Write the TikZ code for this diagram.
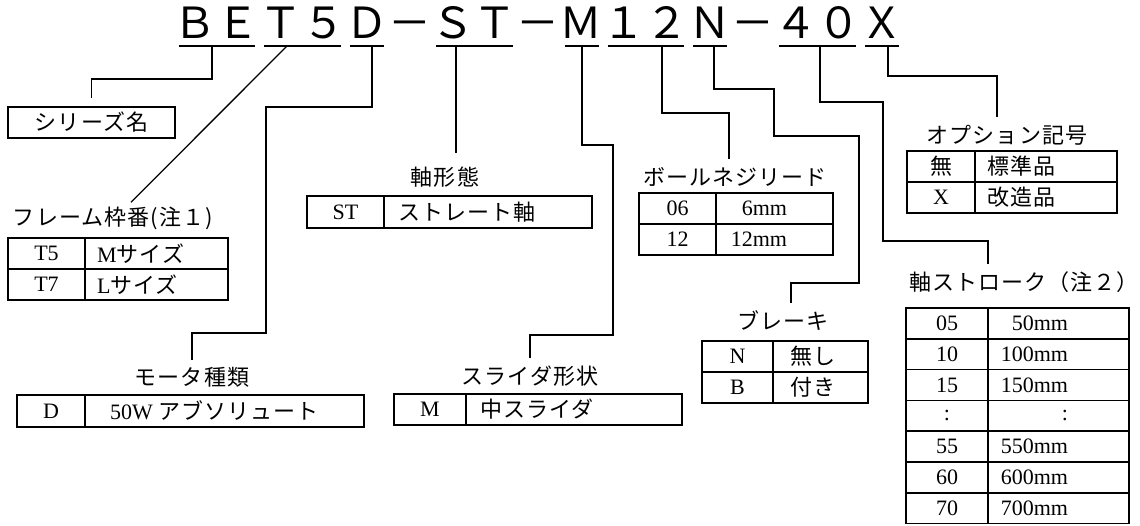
\documentclass[tikz,border=0pt]{standalone}
\usepackage{fontspec}
\setmainfont{Liberation Serif}
\newfontfamily\jp{Noto Sans CJK JP}[LetterSpace=5]
\newfontfamily\jpcode{Noto Sans CJK JP}
\usetikzlibrary{positioning}
\newcommand\lbx[2]{\makebox[#1][l]{#2}}
\newcommand\rbx[2]{\makebox[#1][r]{#2}}

\begin{document}
\begin{tikzpicture}[x=1pt,y=-1pt,
    code/.style={font=\jpcode\fontsize{42.9pt}{50pt}\selectfont, inner sep=0pt, outer sep=0pt},
    uline/.style={line width=1.4pt},
    lead/.style={line width=1.3pt},
    title/.style={font=\jp\fontsize{22pt}{26pt}\selectfont, inner sep=0pt, anchor=base},
    cell/.style={draw, line width=1.7pt, minimum width=#1, minimum height=31pt,
                 inner sep=0pt, outer sep=0pt, font=\fontsize{22pt}{26pt}\selectfont}]
  \useasboundingbox (0,0) rectangle (1140,525);

  % model code
  \node[code, anchor=base] (gBE) at (216.5,38) {ＢＥ};
  \node[code, base right=0pt of gBE] (gT5) {Ｔ５};
  \node[code, base right=0pt of gT5] (gD) {Ｄ};
  \node[code, base right=0pt of gD] (h1) {－};
  \node[code, base right=0pt of h1] (gST) {ＳＴ};
  \node[code, base right=0pt of gST] (h2) {－};
  \node[code, base right=0pt of h2] (gM) {Ｍ};
  \node[code, base right=0pt of gM] (g12) {１２};
  \node[code, base right=0pt of g12] (gN) {Ｎ};
  \node[code, base right=0pt of gN] (h3) {－};
  \node[code, base right=0pt of h3] (g40) {４０};
  \node[code, base right=0pt of g40] (gX) {Ｘ};
  \foreach \g in {gBE,gT5,gD,gST,gM,g12,gN,g40,gX}
    \draw[uline] ([shift={(5pt,-8pt)}]\g.base west) -- ([shift={(-4pt,-8pt)}]\g.base east);

  \coordinate (uBE) at (212,46);
  \coordinate (uT5) at (287,46);
  \coordinate (uD) at (372,46);
  \coordinate (uST) at (456,46);
  \coordinate (uM) at (582,46);
  \coordinate (u12) at (662,46);
  \coordinate (uN) at (714,46);
  \coordinate (u40) at (820,46);
  \coordinate (uX) at (888,46);

  % series
  \node[cell=167pt, anchor=north west] (tSeries) at (8,107) {\jp シリーズ名};

  % frame
  \node[title] (lFrame) at (113,225) {フレーム枠番(注１)};
  \begin{scope}[every node/.append style={minimum height=31.5pt}]
    \node[cell=77pt, anchor=north west] (fT5) at (8,238) {T5};
    \node[cell=143pt, right=0pt of fT5] (fT5v) {\lbx{119pt}{M{\jp サイズ}}};
    \node[cell=77pt, below=0pt of fT5] (fT7) {T7};
    \node[cell=143pt, right=0pt of fT7] (fT7v) {\lbx{119pt}{L{\jp サイズ}}};
  \end{scope}

  % motor
  \node[title] (lMotor) at (192,385) {モータ種類};
  \node[cell=68pt, minimum height=32pt, anchor=north west] (mD) at (17,395) {D};
  \node[cell=279pt, minimum height=32pt, right=0pt of mD] (mDv) {\lbx{229pt}{50W {\jp アブソリュート}}};

  % shaft
  \node[title] (lShaft) at (445,185) {軸形態};
  \node[cell=77pt, minimum height=32pt, anchor=north west] (sST) at (307,196) {ST};
  \node[cell=208pt, minimum height=32pt, right=0pt of sST] (sSTv) {\lbx{180pt}{\jp ストレート軸}};

  % slider
  \node[title] (lSlider) at (530,384) {スライダ形状};
  \node[cell=72pt, anchor=north west] (slM) at (394,394) {M};
  \node[cell=216pt, right=0pt of slM] (slMv) {\lbx{188pt}{\jp 中スライダ}};

  % ball screw
  \node[title] (lBall) at (735,185) {ボールネジリード};
  \begin{scope}[every node/.append style={minimum height=30.5pt}]
    \node[cell=77pt, anchor=north west] (b06) at (639,193) {06};
    \node[cell=117pt, right=0pt of b06] (b06v) {\rbx{25pt}{6mm}};
    \node[cell=77pt, below=0pt of b06] (b12) {12};
    \node[cell=117pt, right=0pt of b12] (b12v) {\rbx{25pt}{12mm}};
  \end{scope}

  % brake
  \node[title] (lBrake) at (783,329) {ブレーキ};
  \begin{scope}[every node/.append style={minimum height=30.5pt}]
    \node[cell=71pt, anchor=north west] (kN) at (702,341) {N};
    \node[cell=95pt, right=0pt of kN] (kNv) {\lbx{61pt}{\jp 無し}};
    \node[cell=71pt, below=0pt of kN] (kB) {B};
    \node[cell=95pt, right=0pt of kB] (kBv) {\lbx{61pt}{\jp 付き}};
  \end{scope}

  % option
  \node[title] (lOption) at (1007,143) {オプション記号};
  \node[cell=68pt, anchor=north west] (oN) at (907,151) {\jp 無};
  \node[cell=142pt, right=0pt of oN] (oNv) {\lbx{118pt}{\jp 標準品}};
  \node[cell=68pt, below=0pt of oN] (oX) {X};
  \node[cell=142pt, right=0pt of oX] (oXv) {\lbx{118pt}{\jp 改造品}};

  % stroke
  \node[title] (lStroke) at (1024,290) {軸ストローク（注２）};
  \foreach \k/\v [count=\i from 0] in {05/50mm,10/100mm,15/150mm,:/:,55/550mm,60/600mm,70/700mm} {
    \node[cell=82pt, minimum height=30.8pt, anchor=north west] (st\i) at (906,{308+30.8*\i}) {\k};
    \node[cell=141pt, minimum height=30.8pt, right=0pt of st\i] (sv\i) {\rbx{19pt}{\v}};
  }

  % leads
  \draw[lead] (uBE) -- ++(0,33) -| ([yshift=9pt]tSeries.north);
  \draw[lead] (uT5) -- ([xshift=18pt,yshift=4pt]lFrame.north);
  \draw[lead] (uD) -- ++(0,61) -- ++(-106,0) -- ++(0,226) -| ([yshift=7pt]lMotor.north);
  \draw[lead] (uST) -- ([xshift=11pt,yshift=13pt]lShaft.north);
  \draw[lead] (uM) -- ++(0,99) -- ++(31,0) -- ++(0,190) -| ([yshift=7pt]lSlider.north);
  \draw[lead] (u12) -- ++(0,67) -| ([xshift=-6pt,yshift=8pt]lBall.north);
  \draw[lead] (uN) -- ++(0,43) -- ++(60,0) -- ++(0,47) -- ++(85,0) -- ++(0,147) -| ([xshift=8pt,yshift=7pt]lBrake.north);
  \draw[lead] (u40) -- ++(0,56) -- ++(63,0) -- ++(0,139) -| ([xshift=-36pt,yshift=7pt]lStroke.north);
  \draw[lead] (uX) -- ++(0,30) -| ([xshift=-10pt,yshift=8pt]lOption.north);
\end{tikzpicture}
\end{document}
